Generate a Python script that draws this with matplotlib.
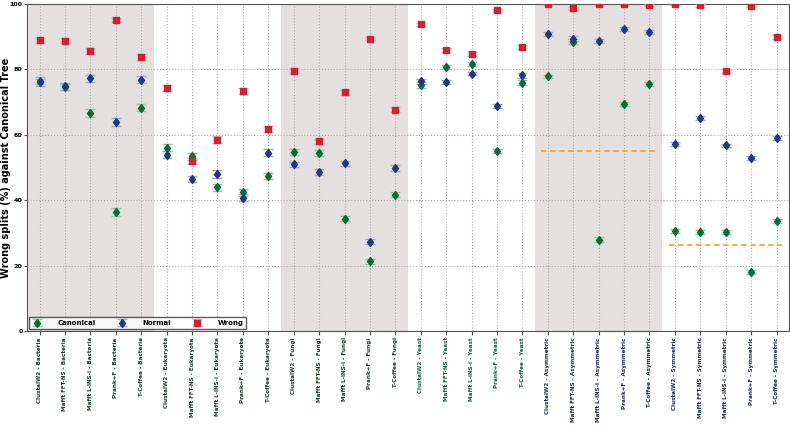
import matplotlib
matplotlib.use('Agg')
import matplotlib.pyplot as plt

# categories (aligner - dataset)
aligners = ['ClustalW2', 'Mafft FFT-NS', 'Mafft L-INS-i', 'Prank+F', 'T-Coffee']
datasets = ['Bacteria', 'Eukaryota', 'Fungi', 'Yeast', 'Asymmetric', 'Symmetric']
labels = [a + ' - ' + d for d in datasets for a in aligners]

# values
canonical = [76.5, 74.6, 66.6, 36.5, 68.2,
             56.0, 53.4, 43.9, 42.4, 47.4,
             54.8, 54.5, 34.3, 21.3, 41.7,
             75.2, 80.6, 81.6, 55.1, 75.9,
             77.8, 88.4, 27.9, 69.5, 75.6,
             30.5, 30.2, 30.3, 17.9, 33.5]
normal = [76.0, 74.8, 77.3, 63.9, 76.8,
          53.9, 46.5, 48.0, 40.8, 54.5,
          50.9, 48.6, 51.2, 27.3, 49.9,
          76.3, 76.0, 78.7, 68.7, 78.1,
          90.8, 89.4, 88.5, 92.3, 91.3,
          57.2, 65.1, 56.7, 52.9, 59.1]
wrong = [88.9, 88.7, 85.5, 95.0, 83.7,
         74.3, 52.0, 58.5, 73.3, 61.7,
         79.6, 58.0, 73.0, 89.4, 67.7,
         93.7, 85.9, 84.7, 98.0, 86.7,
         100.0, 98.6, 100.0, 100.0, 99.6,
         100.0, 99.5, 79.6, 99.3, 89.8]

# error bars (approximate)
err_canonical = [1.0, 1.0, 1.2, 1.2, 1.1, 1.1, 1.0, 1.0, 1.0, 1.0,
                 0.9, 0.9, 0.8, 0.8, 0.8, 0.8, 0.6, 0.6, 0.6, 0.7,
                 0.6, 0.7, 0.7, 0.6, 0.6, 0.6, 0.7, 0.7, 0.6, 0.6]
err_normal = [1.0, 1.0, 1.1, 1.1, 1.1, 1.1, 1.0, 1.1, 1.0, 1.1,
              0.9, 0.9, 0.9, 0.8, 0.9, 0.8, 0.6, 0.6, 0.6, 0.7,
              0.6, 0.7, 0.6, 0.6, 0.6, 0.6, 0.7, 0.6, 0.6, 0.6]
err_wrong = [0.8, 0.8, 0.9, 0.6, 0.9, 0.9, 1.0, 1.1, 0.9, 1.0,
             0.7, 0.8, 0.8, 0.6, 0.8, 0.5, 0.6, 0.6, 0.4, 0.6,
             0.3, 0.5, 0.3, 0.3, 0.4, 0.3, 0.4, 0.6, 0.4, 0.6]

# shaded groups and mean reference lines
shaded_groups = [0, 2, 4]
mean_lines = {4: 54.9, 5: 26.3}

fig = plt.figure(figsize=(7.9, 4.26), dpi=100)
ax = fig.add_axes([0.034, 0.223, 0.965, 0.768])

x = list(range(len(labels)))

for g in shaded_groups:
    ax.axvspan(g * 5 - 0.5, g * 5 + 4.5, color='#e5e0e0', zorder=0, lw=0)

for g in mean_lines:
    ax.hlines(mean_lines[g], g * 5 - 0.25, g * 5 + 4.2, colors='#f5a623',
              linestyles=(0, (3, 2)), lw=1.3, zorder=2)

ax.errorbar(x, canonical, yerr=err_canonical, fmt='d', color='#0b6b3a',
            ecolor='#8fc7a4', elinewidth=1, capsize=3.5, markersize=4.5,
            label='Canonical', zorder=4)
ax.errorbar(x, normal, yerr=err_normal, fmt='d', color='#253777',
            ecolor='#9fa8d0', elinewidth=1, capsize=3.5, markersize=4.5,
            label='Normal', zorder=4)
ax.errorbar(x, wrong, yerr=err_wrong, fmt='s', color='#cf2238',
            ecolor='#f0a0a8', elinewidth=1, capsize=3.5, markersize=3.8,
            label='Wrong', zorder=4)

ax.set_xlim(-0.5, 29.5)
ax.set_ylim(0, 100)
ax.set_yticks([0, 20, 40, 60, 80, 100])
ax.set_xticks(x)
ax.set_xticklabels(labels, rotation=90, fontsize=4.1, fontweight='bold')
for i, t in enumerate(ax.get_xticklabels()):
    if i < 15:
        t.set_color('#1c3b28')
    elif i < 20:
        t.set_color('#1a6035')
    else:
        t.set_color('#1c2a4e')
for t in ax.get_yticklabels():
    t.set_fontsize(4.6)
    t.set_fontweight('bold')

ax.set_ylabel('Wrong splits (%) against Canonical Tree', fontsize=7,
              fontweight='bold', va='center')
ax.yaxis.set_label_coords(-0.0275, 0.5)
ax.grid(True, linestyle=':', color='#aaaaaa', lw=0.8, zorder=1)
ax.set_axisbelow(True)
for s in ax.spines.values():
    s.set_color('#555555')
ax.tick_params(axis='x', length=3, color='#555555', pad=1.5)
ax.tick_params(axis='y', length=2, color='#555555', pad=1)

leg = ax.legend(loc='lower left', ncol=3, prop={'weight': 'bold', 'size': 5},
                frameon=True, fancybox=False, borderaxespad=0.3,
                columnspacing=3.0, handletextpad=2.2, handlelength=1.5,
                borderpad=0.4)
leg.get_frame().set_edgecolor('#333333')
leg.get_frame().set_linewidth(1)

fig.savefig('out.png', dpi=100)
